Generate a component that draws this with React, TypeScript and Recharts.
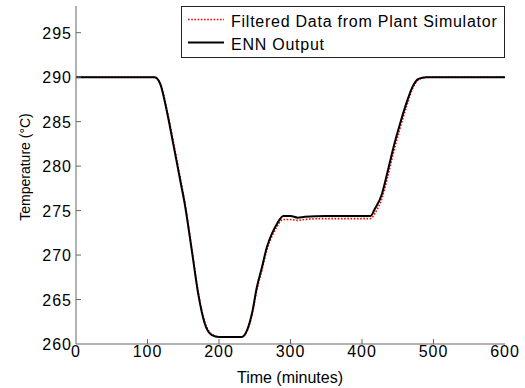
import { LineChart, Line, XAxis, YAxis, Legend, Label } from 'recharts';

const timeMinutes = [0, 50, 100, 110, 118, 127, 136, 146, 152, 162, 171, 180, 190, 200, 215, 232, 239, 246, 253, 260, 267, 274, 281, 290, 300, 310, 320, 350, 380, 400, 412, 418, 428, 435, 444, 453, 463, 470, 479, 490, 550, 600];
const plantSimulator = [290, 290, 290, 290, 289.3, 286.4, 282.8, 278.6, 276.0, 270.7, 265.8, 262.5, 261.1, 260.8, 260.8, 260.8, 261.4, 263.2, 266.1, 268.3, 270.6, 272.1, 273.2, 274.0, 274.0, 273.9, 274.0, 274.1, 274.1, 274.1, 274.1, 274.7, 276.4, 278.5, 281.5, 284.2, 286.9, 288.6, 289.7, 290, 290, 290];
const ennOutput = [290, 290, 290, 290, 289.2, 286.2, 282.5, 278.3, 275.8, 270.5, 265.6, 262.3, 261.0, 260.8, 260.8, 260.8, 261.5, 263.4, 266.4, 268.6, 270.9, 272.4, 273.5, 274.4, 274.4, 274.2, 274.3, 274.4, 274.4, 274.4, 274.4, 275.2, 276.9, 279.1, 282.1, 284.7, 287.3, 288.8, 289.8, 290, 290, 290];

const xTicks = [0, 100, 200, 300, 400, 500, 600];
const yTicks = [260, 265, 270, 275, 280, 285, 290, 295];

const data = timeMinutes.map((t, i) => ({ t, plant: plantSimulator[i], enn: ennOutput[i] }));

const FONT = 'Arial, "Liberation Sans", sans-serif';
const AXIS = '#666';

const BottomTick = ({ x, y, payload }: any) => (
  <g>
    {payload.value > 0 && payload.value < 600 && <line x1={x} y1={y} x2={x} y2={y - 5} stroke={AXIS} />}
    <text x={x} y={y + 13} textAnchor="middle" fontSize={16} letterSpacing={1} fontFamily={FONT} fill="#000">
      {payload.value}
    </text>
  </g>
);

const LeftTick = ({ x, y, payload }: any) => (
  <g>
    {payload.value > 260 && <line x1={x} y1={y} x2={x + 5} y2={y} stroke={AXIS} />}
    <text x={x - 4} y={y + 6} textAnchor="end" fontSize={16} letterSpacing={1} fontFamily={FONT} fill="#000">
      {payload.value}
    </text>
  </g>
);

const TopTick = ({ x, y, payload }: any) =>
  payload.value > 0 && payload.value < 600 ? <line x1={x} y1={y} x2={x} y2={y + 5} stroke={AXIS} /> : <g />;

const RightTick = ({ x, y, payload }: any) =>
  payload.value > 260 ? <line x1={x} y1={y} x2={x - 5} y2={y} stroke={AXIS} /> : <g />;

const LegendBox = () => (
  <svg width={324} height={52} style={{ display: 'block' }}>
    <rect x={0.5} y={0.5} width={323} height={51} fill="#fff" stroke="#222" />
    <line x1={7} y1={13.5} x2={43} y2={13.5} stroke="#ff0000" strokeWidth={1.6} strokeDasharray="1.6 1.6" />
    <text x={50} y={20.5} fontSize={16} letterSpacing={0.75} fontFamily={FONT} fill="#000">
      Filtered Data from Plant Simulator
    </text>
    <line x1={7} y1={36.5} x2={43} y2={36.5} stroke="#000" strokeWidth={2} />
    <text x={50} y={44} fontSize={16} letterSpacing={0.75} fontFamily={FONT} fill="#000">
      ENN Output
    </text>
  </svg>
);

export default function App() {
  return (
    <div style={{ position: 'absolute', left: 0, top: 0, background: '#fff' }}>
      <LineChart width={525} height={388} data={data} margin={{ top: 6, right: 20, bottom: 0, left: 0 }}>
        <XAxis
          xAxisId="bottom"
          dataKey="t"
          type="number"
          domain={[0, 600]}
          ticks={xTicks}
          height={44}
          tickSize={0}
          tickMargin={0}
          tickLine={false}
          axisLine={{ stroke: AXIS }}
          tick={<BottomTick />}
          interval={0}
        >
          <Label
            content={() => (
              <text x={290} y={383} textAnchor="middle" fontSize={16} fontFamily={FONT} fill="#000">
                Time (minutes)
              </text>
            )}
          />
        </XAxis>
        <XAxis
          xAxisId="top"
          orientation="top"
          dataKey="t"
          type="number"
          domain={[0, 600]}
          ticks={xTicks}
          height={0}
          tickSize={0}
          tickMargin={0}
          tickLine={false}
          axisLine={{ stroke: AXIS }}
          tick={<TopTick />}
          interval={0}
        />
        <YAxis
          yAxisId="left"
          type="number"
          domain={[260, 298]}
          ticks={yTicks}
          width={76}
          tickSize={0}
          tickMargin={0}
          tickLine={false}
          axisLine={{ stroke: AXIS }}
          tick={<LeftTick />}
          interval={0}
          allowDataOverflow
        >
          <Label
            content={() => (
              <text
                x={25}
                y={167}
                transform="rotate(-90 25 167)"
                textAnchor="middle"
                dominantBaseline="central"
                fontSize={14}
                fontFamily={FONT}
                fill="#000"
              >
                Temperature (°C)
              </text>
            )}
          />
        </YAxis>
        <YAxis
          yAxisId="right"
          orientation="right"
          type="number"
          domain={[260, 298]}
          ticks={yTicks}
          width={0}
          tickSize={0}
          tickMargin={0}
          tickLine={false}
          axisLine={{ stroke: AXIS }}
          tick={<RightTick />}
          interval={0}
          allowDataOverflow
        />
        <Line
          xAxisId="bottom"
          yAxisId="left"
          type="monotone"
          dataKey="plant"
          stroke="#ff0000"
          strokeWidth={1.6}
          strokeDasharray="1.6 1.6"
          dot={false}
          isAnimationActive={false}
        />
        <Line
          xAxisId="bottom"
          yAxisId="left"
          type="monotone"
          dataKey="enn"
          stroke="#000"
          strokeWidth={2}
          dot={false}
          isAnimationActive={false}
        />
        <Legend
          layout="horizontal"
          verticalAlign="middle"
          content={<LegendBox />}
          wrapperStyle={{ position: 'absolute', left: 181, top: 6, width: 324, height: 52 }}
        />
      </LineChart>
    </div>
  );
}
